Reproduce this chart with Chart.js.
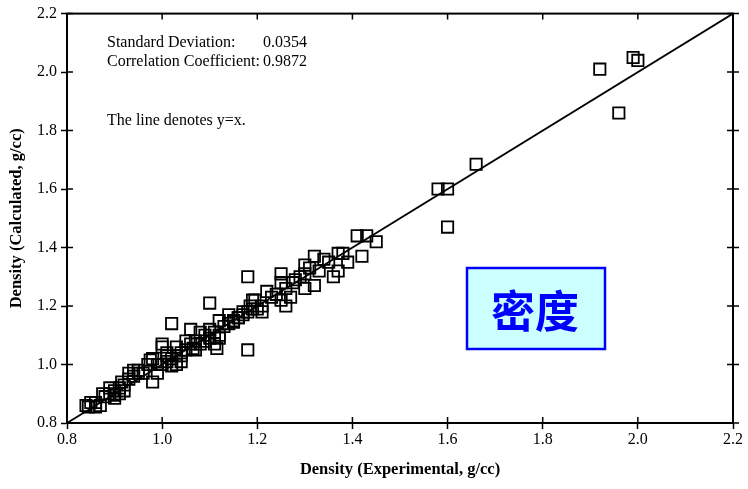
<!DOCTYPE html>
<html>
<head>
<meta charset="utf-8">
<script src="https://cdn.jsdelivr.net/npm/chart.js@4/dist/chart.umd.min.js"></script>
<style>
  html, body { margin: 0; padding: 0; background: #fff; }
  #wrap { width: 748px; height: 489px; }
</style>
</head>
<body>
<div id="wrap"><canvas id="density_chart"></canvas></div>
<script>
// experimental vs calculated density
const exp_density = [
    0.84, 0.85, 0.86, 0.845, 0.86, 0.87,
    0.875, 0.89, 0.90, 0.91, 0.92, 0.88, 0.89, 0.90, 0.91, 0.90,
    0.915, 0.93, 0.94, 0.93, 0.94, 0.95, 0.95, 0.92, 0.96,
    0.975, 0.98, 0.99, 1.00, 1.01, 1.02, 0.97, 0.99, 0.98, 1.00, 1.01, 1.03, 1.04, 1.065, 1.05,
    1.115, 1.09, 1.12, 1.08, 1.10, 1.12, 1.14, 1.06, 1.02, 1.10, 1.00, 1.01, 1.02, 1.03, 1.04,
    1.05, 1.06, 1.07, 1.08, 1.09, 1.10, 1.11, 1.12, 1.13, 1.14, 1.11, 1.07, 1.04, 1.03,
    1.15, 1.16, 1.15, 1.17, 1.16, 1.185, 1.19, 1.20, 1.21, 1.21, 1.195, 1.18, 1.18, 1.17, 1.18, 1.19,
    1.22, 1.24, 1.27, 1.25, 1.26, 1.25, 1.275, 1.30, 1.32, 1.30, 1.30, 1.33, 1.25, 1.32, 1.34,
    1.36, 1.37, 1.37, 1.38, 1.39, 1.42, 1.45, 1.41, 1.43, 1.23, 1.26, 1.28, 1.29, 1.31, 1.35,
    1.58, 1.60, 1.60, 1.66, 1.92, 1.99, 2.00, 1.96
];
const calc_density = [
    0.86, 0.87, 0.855, 0.855, 0.87, 0.86,
    0.90, 0.92, 0.895, 0.90, 0.91, 0.89, 0.90, 0.91, 0.92, 0.885,
    0.94, 0.97, 0.98, 0.95, 0.96, 0.97, 0.98, 0.93, 0.97,
    1.015, 0.94, 0.97, 1.06, 1.03, 0.995, 1.00, 1.00, 1.02, 1.07, 1.04, 1.06, 1.04, 1.055, 1.08,
    1.055, 1.08, 1.09, 1.11, 1.12, 1.15, 1.17, 1.12, 1.14, 1.21, 1.00, 1.01, 1.02, 1.03, 1.03,
    1.05, 1.07, 1.08, 1.07, 1.10, 1.09, 1.11, 1.10, 1.13, 1.14, 1.07, 1.05, 1.01, 1.00,
    1.145, 1.16, 1.15, 1.18, 1.16, 1.20, 1.22, 1.19, 1.20, 1.18, 1.22, 1.05, 1.30, 1.17, 1.18, 1.19,
    1.25, 1.24, 1.23, 1.22, 1.20, 1.28, 1.28, 1.26, 1.27, 1.31, 1.34, 1.32, 1.31, 1.37, 1.36,
    1.30, 1.32, 1.38, 1.38, 1.35, 1.37, 1.42, 1.44, 1.44, 1.23, 1.26, 1.29, 1.30, 1.33, 1.35,
    1.60, 1.60, 1.47, 1.685, 2.01, 2.05, 2.04, 1.86
];
const axis_ticks = [0.8, 1.0, 1.2, 1.4, 1.6, 1.8, 2.0, 2.2];
const identity_line = [0.8, 2.2];

const stats_lines = [
    ['Standard Deviation:', '0.0354'],
    ['Correlation Coefficient:', '0.9872'],
];
const note_text = 'The line denotes y=x.';
const badge_text = '密度';

const points = exp_density.map((x, i) => ({x: x, y: calc_density[i]}));
const line_points = identity_line.map(v => ({x: v, y: v}));

// inside ticks, frame and the text notes
const frame_plugin = {
    id: 'frame_plugin',
    afterDraw(chart) {
        const ctx = chart.ctx;
        const area = chart.chartArea;
        const xs = chart.scales.x;
        const ys = chart.scales.y;
        ctx.save();
        ctx.strokeStyle = '#000';
        ctx.lineWidth = 2;
        ctx.strokeRect(area.left, area.top, area.right - area.left, area.bottom - area.top);
        ctx.lineWidth = 1.5;
        ctx.beginPath();
        axis_ticks.forEach(v => {
            const px = xs.getPixelForValue(v);
            const py = ys.getPixelForValue(v);
            ctx.moveTo(px, area.bottom); ctx.lineTo(px, area.bottom - 6);
            ctx.moveTo(px, area.top); ctx.lineTo(px, area.top + 6);
            ctx.moveTo(area.left, py); ctx.lineTo(area.left + 6, py);
            ctx.moveTo(area.right - 6, py); ctx.lineTo(area.right + 6, py);
        });
        ctx.stroke();

        ctx.fillStyle = '#000';
        ctx.font = '16px "Liberation Serif", serif';
        ctx.textBaseline = 'middle';
        stats_lines.forEach((row, i) => {
            const y = 43 + i * 19;
            ctx.textAlign = 'left';
            ctx.fillText(row[0], 107, y);
            ctx.textAlign = 'right';
            ctx.fillText(row[1], 307, y);
        });
        ctx.textAlign = 'left';
        ctx.fillText(note_text, 107, 121);

        ctx.fillStyle = '#ccffff';
        ctx.fillRect(467, 268, 138, 81);
        ctx.strokeStyle = '#0000ff';
        ctx.lineWidth = 2.5;
        ctx.strokeRect(467, 268, 138, 81);
        ctx.fillStyle = '#0000ff';
        ctx.font = '600 44px "Noto Sans CJK SC", sans-serif';
        ctx.textAlign = 'center';
        ctx.fillText(badge_text, 535, 311);
        ctx.restore();
    }
};

const serif = '"Liberation Serif", "Times New Roman", serif';

const chart_config = {
    data: {
        datasets: [{
            type: 'scatter',
            data: points,
            pointStyle: 'rect',
            pointRadius: 8,
            pointBorderWidth: 1.8,
            borderColor: '#000',
            backgroundColor: 'rgba(0,0,0,0)',
        }, {
            type: 'line',
            data: line_points,
            borderColor: '#000',
            borderWidth: 1.8,
            pointRadius: 0,
            fill: false,
        }]
    },
    options: {
        responsive: false,
        animation: false,
        events: [],
        layout: {padding: {left: 0, right: 15, top: 13, bottom: 0}},
        plugins: {legend: {display: false}, tooltip: {enabled: false}},
        scales: {
            x: {
                type: 'linear',
                min: 0.8,
                max: 2.2,
                afterFit(scale) { scale.height = 66; },
                afterBuildTicks(scale) { scale.ticks = axis_ticks.map(v => ({value: v})); },
                grid: {drawOnChartArea: false, tickLength: 6, tickColor: '#000', tickWidth: 1.5},
                border: {color: '#000', width: 2},
                ticks: {
                    color: '#000', padding: 1, maxRotation: 0,
                    font: {family: serif, size: 16},
                    callback: v => v.toFixed(1),
                },
                title: {
                    display: true, text: 'Density (Experimental, g/cc)', color: '#000',
                    font: {family: serif, size: 16.5, weight: 'bold'},
                    padding: {top: 0, bottom: 9},
                },
            },
            y: {
                type: 'linear',
                min: 0.8,
                max: 2.2,
                afterFit(scale) { scale.width = 67; },
                afterBuildTicks(scale) { scale.ticks = axis_ticks.map(v => ({value: v})); },
                grid: {drawOnChartArea: false, tickLength: 6, tickColor: '#000', tickWidth: 1.5},
                border: {color: '#000', width: 2},
                ticks: {
                    color: '#000', padding: 4,
                    font: {family: serif, size: 16},
                    callback: v => v.toFixed(1),
                },
                title: {
                    display: true, text: 'Density (Calculated, g/cc)', color: '#000',
                    font: {family: serif, size: 16.5, weight: 'bold'},
                    padding: {top: 7, bottom: 0},
                },
            },
        },
    },
    plugins: [frame_plugin],
};

const canvas = document.getElementById('density_chart');
canvas.width = 748;
canvas.height = 489;
const chart = new Chart(canvas, chart_config);
</script>
</body>
</html>
